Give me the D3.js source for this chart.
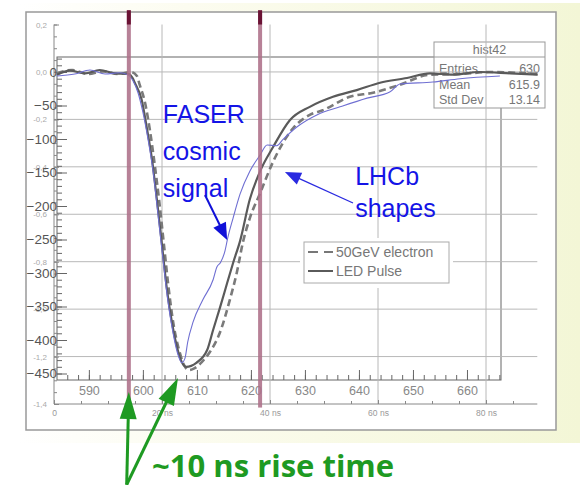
<!DOCTYPE html>
<html>
<head>
<meta charset="utf-8">
<script src="https://cdn.jsdelivr.net/npm/d3@7"></script>
<style>
html, body { margin: 0; padding: 0; background: #fff; }
svg text { font-family: "Liberation Sans", Arial, sans-serif; }
</style>
</head>
<body>
<svg id="chart" width="580" height="485"></svg>
<script>
// ROOT histogram axes
var rootTicksX = [590, 600, 610, 620, 630, 640, 650, 660];
var rootTicksY = [0, -50, -100, -150, -200, -250, -300, -350, -400, -450];
// oscilloscope screen behind it
var scopeTicksX = [0, 20, 40, 60, 80];
var scopeLabelsX = ["0", "20 ns", "40 ns", "60 ns", "80 ns"];
var scopeTicksY = [0.2, 0, -0.2, -0.4, -0.6, -0.8, -1.0, -1.2, -1.4];
var scopeLabelsY = ["0,2", "0,0", "-0,2", "-0,4", "-0,6", "-0,8", "-1,0", "-1,2", "-1,4"];

// LED Pulse (solid)
var ledTime = [584.1, 586.5, 589.3, 592.0, 594.8, 597.4, 598.1, 598.5, 599.8, 600.7, 601.7, 602.6, 603.5, 604.4, 605.4, 606.3, 607.2, 608.0, 609.9, 611.9, 613.0, 614.3, 615.6, 616.7, 618.0, 619.8, 621.7, 624.1, 627.2, 630.9, 635.2, 639.6, 643.9, 648.9, 653.1, 657.4, 662.4, 668.0, 673.1];
var ledAmp = [-4, 2, -2, 3, -2, -3, -9, -16, -42, -82, -131, -191, -255, -321, -375, -410, -433, -440, -434, -415, -385, -351, -315, -285, -252, -190, -148, -112, -72, -52, -37, -27, -16, -9, -2, -4, 0, -2, -4];
// 50GeV electron (dashed)
var elecTime = [584.1, 586.9, 589.8, 592.6, 595.4, 597.8, 598.9, 599.4, 600.4, 601.3, 602.2, 603.0, 603.9, 604.8, 605.7, 606.7, 607.6, 608.5, 609.6, 610.9, 612.4, 614.3, 616.1, 617.4, 618.5, 619.8, 621.7, 624.1, 627.8, 630.9, 633.3, 638.3, 642.6, 647.6, 653.1, 658.7, 664.3, 673.1];
var elecAmp = [-2, 3, -3, 1, -3, 0, -6, -19, -46, -87, -139, -191, -258, -325, -378, -415, -437, -445, -442, -433, -418, -388, -340, -299, -255, -218, -181, -134, -84, -64, -57, -37, -31, -19, -4, -3, 0, -3];
// FASER cosmic signal (thin blue)
var faserTime = [584.1, 587.4, 590.2, 593.0, 595.7, 597.2, 598.1, 599.1, 600.0, 600.9, 601.9, 602.8, 603.7, 604.6, 605.6, 606.5, 607.2, 607.8, 608.3, 609.3, 611.1, 613.0, 613.7, 614.4, 615.2, 615.7, 616.7, 618.0, 619.8, 621.7, 623.0, 624.8, 625.9, 628.5, 632.2, 636.5, 641.5, 645.7, 647.6, 653.7, 658.7, 666.1];
var faserAmp = [-6, -3, 3, -3, -1, -4, -12, -31, -60, -98, -149, -213, -278, -340, -390, -422, -434, -427, -403, -373, -340, -310, -291, -284, -267, -248, -218, -182, -148, -124, -109, -110, -101, -82, -64, -52, -39, -30, -18, -15, -10, -6];

var riseMarks = [597.4, 621.7];
var statNames = ["Entries", "Mean", "Std Dev"];
var statValues = ["630", "615.9", "13.14"];
var legendLabels = ["50GeV electron", "LED Pulse"];

var svg = d3.select("#chart");

// scales: ROOT frame and scope screen
var x = d3.scaleLinear().domain([584.1, 666.3]).range([57, 501]);
var y = d3.scaleLinear().domain([22.4, -459.7]).range([57, 380]);
var xs = d3.scaleLinear().domain([0, 80]).range([54, 486]);
var ys = d3.scaleLinear().domain([0.2, -1.4]).range([24.5, 404]);

// background / slide frame
var defs = svg.append("defs");
var grad = defs.append("linearGradient").attr("id", "cream").attr("x1", 0).attr("x2", 1).attr("y1", 0).attr("y2", 0);
grad.append("stop").attr("offset", "0%").attr("stop-color", "#ffffff");
grad.append("stop").attr("offset", "30%").attr("stop-color", "#fcfcf0");
grad.append("stop").attr("offset", "100%").attr("stop-color", "#f3f6d6");
svg.append("rect").attr("width", 580).attr("height", 485).attr("fill", "#fff");
svg.append("rect").attr("x", 18).attr("y", 3).attr("width", 562).attr("height", 440).attr("fill", "url(#cream)");
svg.append("rect").attr("x", 26).attr("y", 12).attr("width", 530).attr("height", 418)
    .attr("fill", "#fff").attr("stroke", "#999").attr("stroke-width", 1.5);

// ROOT frame
svg.append("rect").attr("x", x.range()[0]).attr("y", y.range()[0])
    .attr("width", x.range()[1] - x.range()[0]).attr("height", y.range()[1] - y.range()[0])
    .attr("fill", "none").attr("stroke", "#666").attr("stroke-width", 1);

// stats box (covers the frame corner)
var sb = svg.append("g");
sb.append("rect").attr("x", 434).attr("y", 42).attr("width", 111).attr("height", 66)
    .attr("fill", "#fff").attr("stroke", "#999");
sb.append("line").attr("x1", 434).attr("x2", 545).attr("y1", 57).attr("y2", 57).attr("stroke", "#999");
sb.append("text").attr("x", 489.5).attr("y", 54).attr("text-anchor", "middle")
    .style("font-size", "12.5px").style("fill", "#777").text("hist42");
statNames.forEach(function(s, i) {
    sb.append("text").attr("x", 439).attr("y", 73 + i * 15.5).style("font-size", "12.5px").style("fill", "#777").text(s);
    sb.append("text").attr("x", 540).attr("y", 73 + i * 15.5).attr("text-anchor", "end")
        .style("font-size", "12.5px").style("fill", "#777").text(statValues[i]);
});

// scope grid
var grid = svg.append("g").attr("stroke", "#b8b8b8").attr("stroke-width", 1);
grid.selectAll("line.v").data(scopeTicksX.slice(1)).enter().append("line")
    .attr("x1", function(d) { return xs(d); }).attr("x2", function(d) { return xs(d); })
    .attr("y1", ys(0.2)).attr("y2", ys(-1.4));
grid.selectAll("line.h").data(scopeTicksY.slice(1, -1)).enter().append("line")
    .attr("x1", xs(0)).attr("x2", xs(89.5))
    .attr("y1", function(d) { return ys(d); }).attr("y2", function(d) { return ys(d); });

// scope axes
var sAxX = svg.append("g").attr("transform", "translate(0," + ys(-1.4) + ")")
    .call(d3.axisBottom(xs).tickValues(scopeTicksX).tickFormat(function(d, i) { return scopeLabelsX[i]; })
        .tickSizeInner(-4).tickSizeOuter(0).tickPadding(6));
svg.append("g").attr("transform", "translate(0," + ys(-1.4) + ")")
    .call(d3.axisBottom(xs).tickValues(d3.range(5, 90, 5)).tickFormat("").tickSize(-3));
svg.append("line").attr("x1", xs(0)).attr("x2", xs(89.5)).attr("y1", ys(-1.4)).attr("y2", ys(-1.4))
    .attr("stroke", "#888");
var sAxY = svg.append("g").attr("transform", "translate(" + xs(0) + ",0)")
    .call(d3.axisLeft(ys).tickValues(scopeTicksY).tickFormat(function(d, i) { return scopeLabelsY[i]; })
        .tickSizeInner(-5).tickSizeOuter(0).tickPadding(7));
svg.append("g").attr("transform", "translate(" + xs(0) + ",0)")
    .call(d3.axisLeft(ys).tickValues(d3.range(-1.4, 0.21, 0.05)).tickFormat("").tickSize(-3));
svg.append("line").attr("x1", xs(0)).attr("x2", xs(0)).attr("y1", ys(0.2)).attr("y2", ys(-1.4)).attr("stroke", "#888");
svg.selectAll(".domain").remove();
svg.selectAll(".tick line").attr("stroke", "#888");
sAxX.selectAll("text").style("font-size", "8.5px").style("fill", "#999");
sAxY.selectAll("text").style("font-size", "8px").style("fill", "#aaa");

// ROOT axes
var rAxY = svg.append("g").attr("transform", "translate(" + x.range()[0] + ",0)")
    .call(d3.axisLeft(y).tickValues(rootTicksY).tickSizeInner(-10).tickSizeOuter(0).tickPadding(0));
var rAxYm = svg.append("g").attr("transform", "translate(" + x.range()[0] + ",0)")
    .call(d3.axisLeft(y).tickValues(d3.range(-450, 21, 10)).tickFormat("").tickSize(-5));
var rAxX = svg.append("g").attr("transform", "translate(0," + y.range()[1] + ")")
    .call(d3.axisBottom(x).tickValues(rootTicksX).tickSizeInner(-10).tickSizeOuter(0).tickPadding(6));
var rAxXm = svg.append("g").attr("transform", "translate(0," + y.range()[1] + ")")
    .call(d3.axisBottom(x).tickValues(d3.range(586, 667, 2)).tickFormat("").tickSize(-5));
[rAxY, rAxYm, rAxX, rAxXm].forEach(function(a) {
    a.select(".domain").remove();
    a.selectAll(".tick line").attr("stroke", "#666");
});
rAxY.selectAll("text").style("font-size", "13.5px").style("fill", "#555");
rAxX.selectAll("text").style("font-size", "12.5px").style("fill", "#888");

// curves
var line = d3.line().x(function(d) { return x(d[0]); }).y(function(d) { return y(d[1]); }).curve(d3.curveMonotoneX);
var led = d3.zip(ledTime, ledAmp), elec = d3.zip(elecTime, elecAmp), faser = d3.zip(faserTime, faserAmp);
svg.append("path").datum(elec).attr("d", line).attr("fill", "none")
    .attr("stroke", "#7a7a7a").attr("stroke-width", 2.6).attr("stroke-dasharray", "7,4");
svg.append("path").datum(led).attr("d", line).attr("fill", "none")
    .attr("stroke", "#5a5a5a").attr("stroke-width", 2.2);
svg.append("path").datum(faser).attr("d", line).attr("fill", "none")
    .attr("stroke", "#6f6fd2").attr("stroke-width", 1.1);

// legend
var lg = svg.append("g");
lg.append("rect").attr("x", 300).attr("y", 238).attr("width", 153).attr("height", 50).attr("fill", "#fff");
lg.append("rect").attr("x", 304).attr("y", 242).attr("width", 145).attr("height", 41)
    .attr("fill", "#fff").attr("stroke", "#aaa");
lg.append("line").attr("x1", 308).attr("x2", 333).attr("y1", 252).attr("y2", 252)
    .attr("stroke", "#777").attr("stroke-width", 2.2).attr("stroke-dasharray", "10,6");
lg.append("line").attr("x1", 308).attr("x2", 333).attr("y1", 271).attr("y2", 271)
    .attr("stroke", "#5a5a5a").attr("stroke-width", 2);
legendLabels.forEach(function(t, i) {
    lg.append("text").attr("x", 336).attr("y", 257 + i * 19).style("font-size", "14px").style("fill", "#777").text(t);
});

// rise-time markers
var marks = svg.append("g");
marks.selectAll("rect.m").data(riseMarks).enter().append("rect")
    .attr("x", function(d) { return x(d) - 2; }).attr("y", ys(0.26))
    .attr("width", 4).attr("height", ys(-1.415) - ys(0.26))
    .attr("fill", "#ad7089").attr("opacity", 0.88);
marks.selectAll("rect.c").data(riseMarks).enter().append("rect")
    .attr("x", function(d) { return x(d) - 2; }).attr("y", ys(0.26))
    .attr("width", 4).attr("height", ys(0.2) - ys(0.26))
    .attr("fill", "#6a1234");

// arrows
function arrow(x1, y1, x2, y2, color, w, hl, hw) {
    var X1 = x(x1), Y1 = y(y1), X2 = x(x2), Y2 = y(y2);
    var a = Math.atan2(Y2 - Y1, X2 - X1);
    var bx = X2 - hl * Math.cos(a), by = Y2 - hl * Math.sin(a);
    svg.append("line").attr("x1", X1).attr("y1", Y1).attr("x2", bx + 2 * Math.cos(a)).attr("y2", by + 2 * Math.sin(a))
        .attr("stroke", color).attr("stroke-width", w);
    var p = [[X2, Y2], [bx + hw * Math.sin(a), by - hw * Math.cos(a)], [bx - hw * Math.sin(a), by + hw * Math.cos(a)]];
    svg.append("path").attr("d", "M" + p.join("L") + "Z").attr("fill", color);
}

// annotations
var blue = "#1414e6";
svg.append("text").attr("x", x(603.7)).attr("y", y(-76)).style("font-size", "25px").style("fill", blue)
    .selectAll("tspan").data(["FASER", "cosmic", "signal"]).enter().append("tspan")
    .attr("x", x(603.7)).attr("dy", function(d, i) { return i ? 37 : 0; }).text(function(d) { return d; });
svg.append("text").attr("x", x(639.3)).attr("y", y(-168.7)).style("font-size", "25px").style("fill", blue)
    .selectAll("tspan").data(["LHCb", "shapes"]).enter().append("tspan")
    .attr("x", x(639.3)).attr("dy", function(d, i) { return i ? 32 : 0; }).text(function(d) { return d; });
arrow(611.5, -183.6, 615.6, -250.7, "#1010d8", 2, 17, 7);
arrow(638.9, -195.5, 626.3, -149.3, "#2a2ae0", 1.3, 16, 6.5);

var green = "#1e9a22";
arrow(597.0, -616, 597.4, -477.6, green, 3, 27, 8.5);
arrow(597.0, -616, 606.5, -456.7, green, 3, 27, 8.5);
svg.append("text").attr("x", x(601.7)).attr("y", y(-604.5))
    .style("font-family", "'Open Sans', sans-serif").style("font-weight", "bold")
    .style("font-size", "31px").style("fill", green).text("~10 ns rise time");
</script>
</body>
</html>
